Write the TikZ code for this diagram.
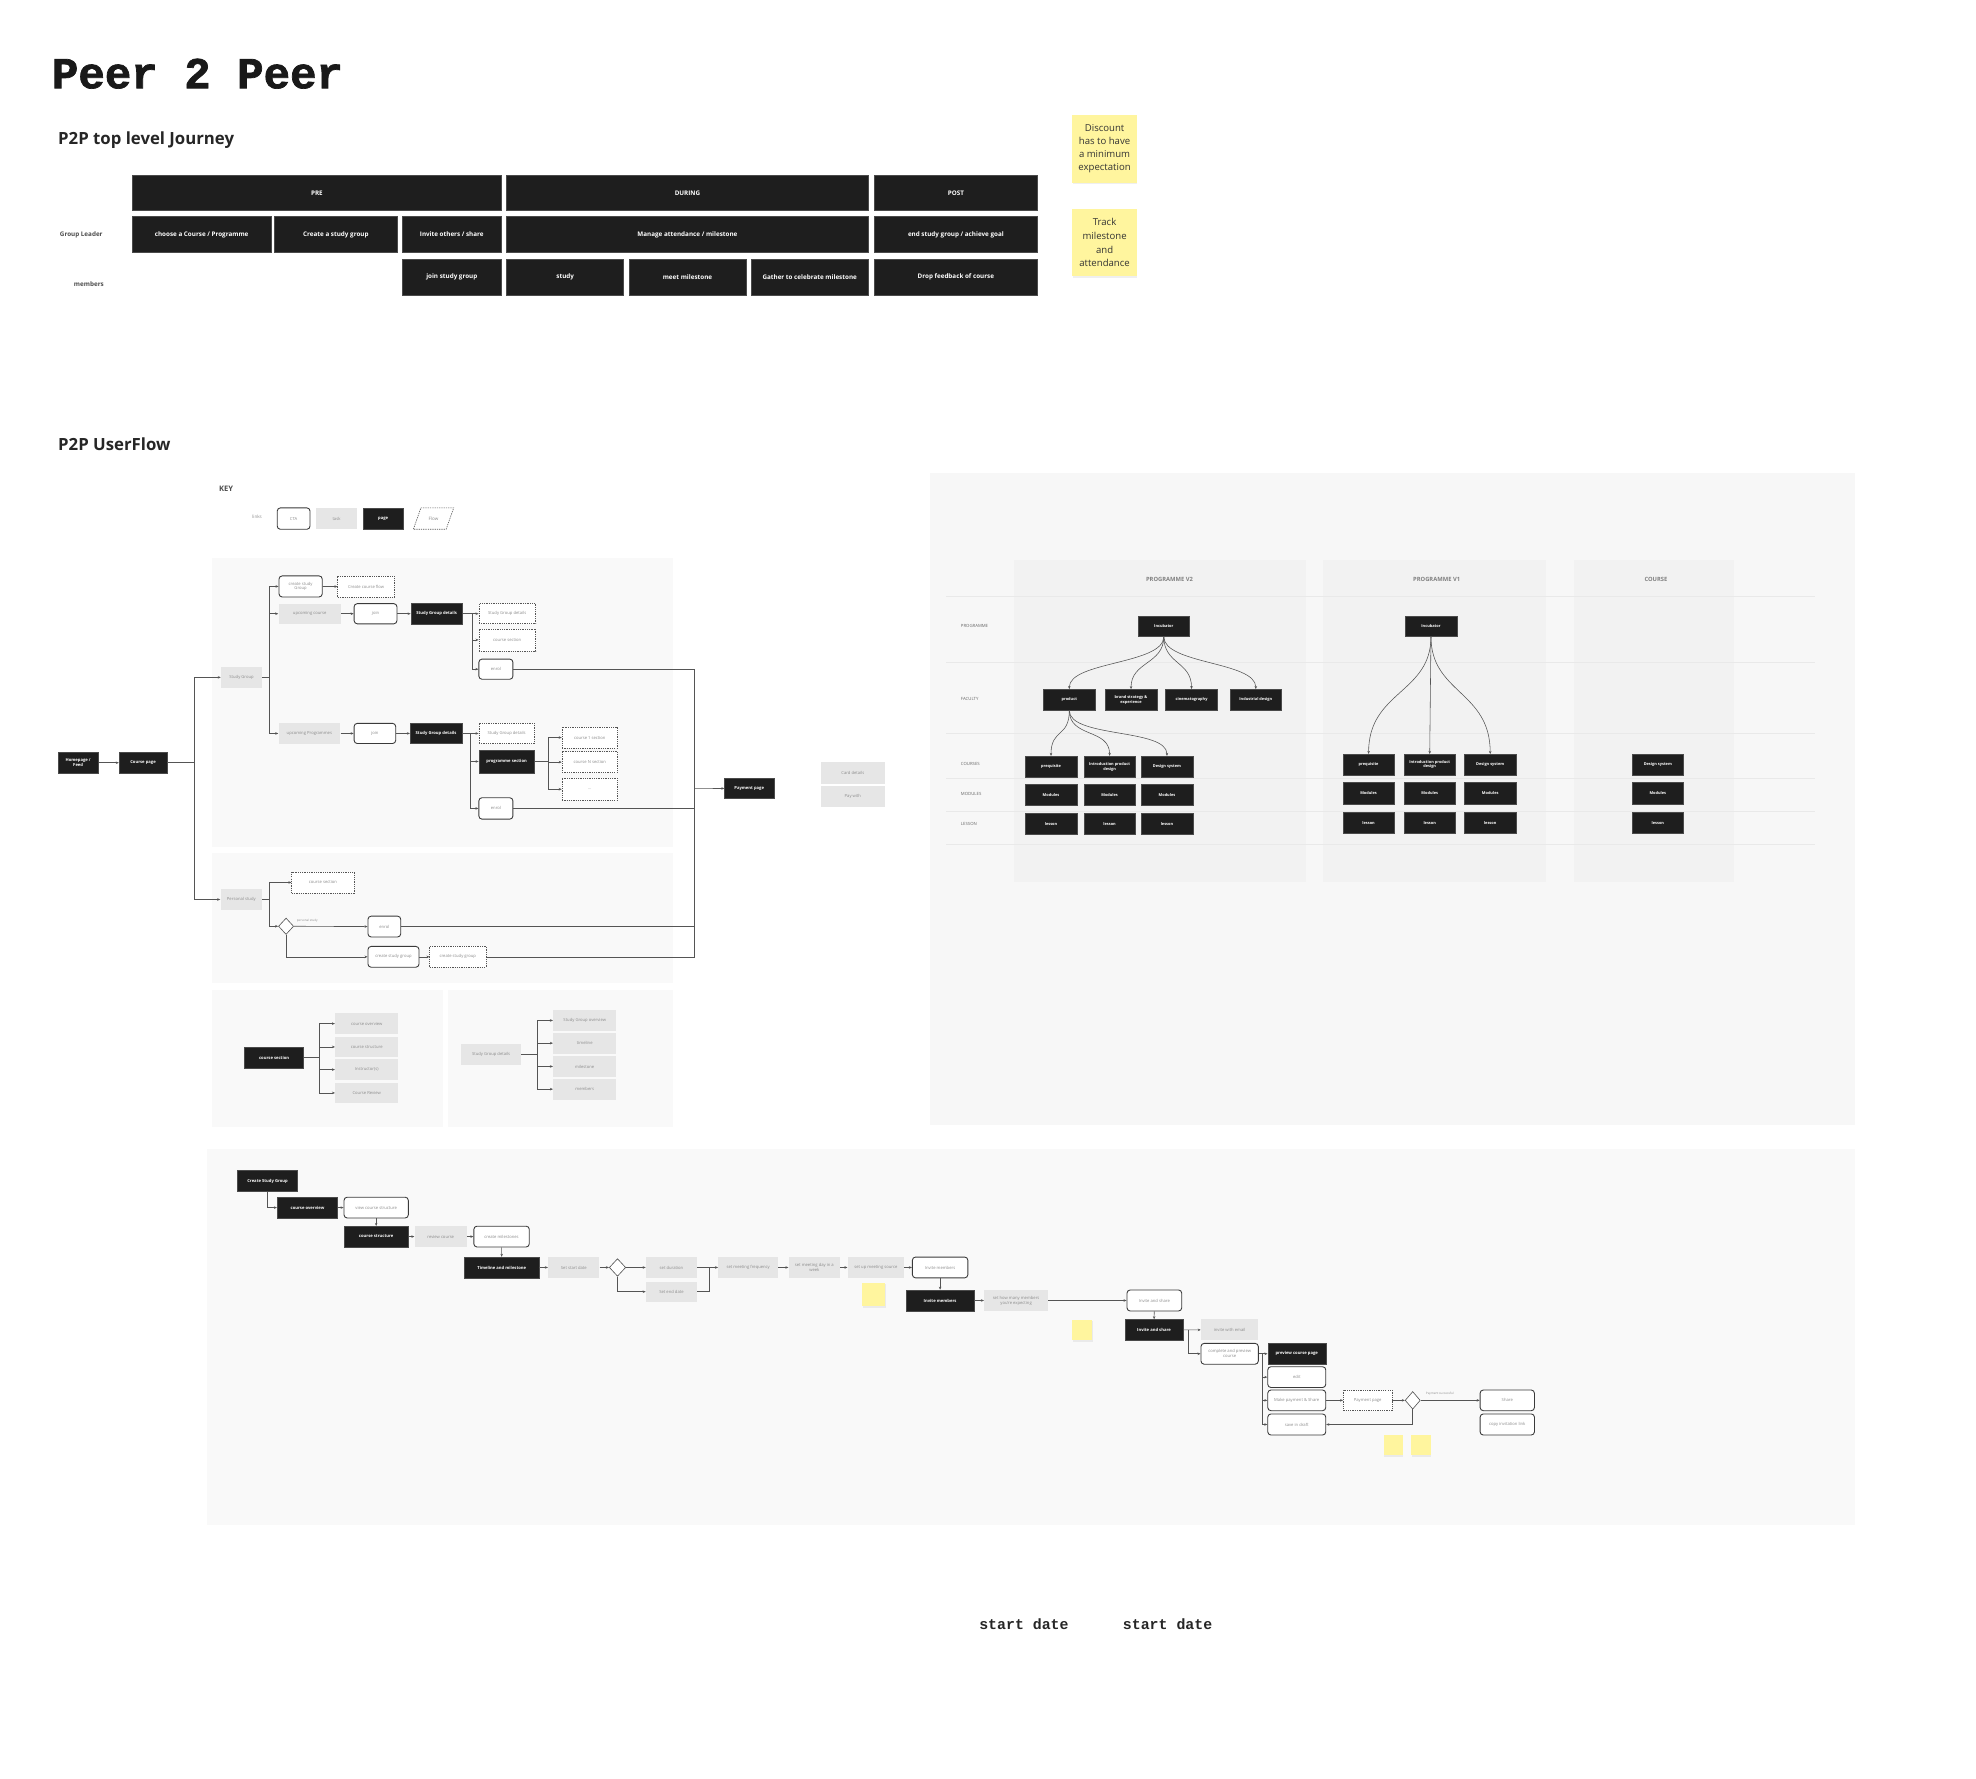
\documentclass[tikz,border=0pt]{standalone}
\usepackage{fontspec}
\setmainfont{Open Sans}
\newfontfamily\monof{Liberation Mono}
\newfontfamily\titlef{Liberation Mono}[BoldFeatures={FakeBold=1.6}]
\usetikzlibrary{arrows.meta,shapes.geometric,shadows,calc}
\definecolor{pgc}{HTML}{1E1E1E}
\definecolor{pgb}{HTML}{4A4A4A}
\definecolor{tkc}{HTML}{E6E6E6}
\definecolor{txg}{HTML}{8C8C8C}
\definecolor{ctab}{HTML}{3A3A3A}
\definecolor{lnc}{HTML}{555555}
\definecolor{panelc}{HTML}{F9F9F9}
\definecolor{bigc}{HTML}{F7F7F7}
\definecolor{colc}{HTML}{F2F2F2}
\definecolor{rowl}{HTML}{E9E9E9}
\definecolor{stk}{HTML}{FFF59E}
\newcommand\mybox[7]{\node[#1, minimum width={#5-#3}, minimum height={#6-#4}] (#2) at ({(#3+#5)/2},{(#4+#6)/2}) {#7};}
\tikzset{
  pg/.style={fill=pgc, draw=pgb, line width=0.4pt, text=white, font=\fontsize{3.3}{3.9}\selectfont\bfseries, inner sep=0.3pt, align=center},
  tk/.style={fill=tkc, text=txg, font=\fontsize{3.3}{3.9}\selectfont, inner sep=0.3pt, align=center},
  cta/.style={draw=ctab, line width=0.7pt, rounded corners=2.5pt, fill=white, text=txg, font=\fontsize{3.3}{3.9}\selectfont, inner sep=0.3pt, align=center},
  fl/.style={draw=lnc, line width=0.5pt, dash pattern=on 1pt off 0.8pt, fill=white, text=txg, font=\fontsize{3.3}{3.9}\selectfont, inner sep=0.3pt, align=center},
  jr/.style={fill=pgc, draw=pgb, line width=0.5pt, text=white, font=\fontsize{5}{6}\selectfont\bfseries, inner sep=0.5pt, align=center},
  rn/.style={pg, font=\fontsize{3.1}{3.6}\selectfont\bfseries},
  arr/.style={draw=lnc, line width=0.5pt, -{Stealth[length=2.4pt,width=2pt]}},
  ln/.style={draw=lnc, line width=0.5pt},
  curv/.style={draw=lnc, line width=0.45pt, -{Stealth[length=2.4pt,width=2pt]}},
  sticky/.style={fill=stk, text=black!80, align=center, inner sep=0pt, drop shadow={opacity=0.12, shadow xshift=0.6pt, shadow yshift=-1.2pt}},
  dmd/.style={diamond, draw=lnc, line width=0.5pt, fill=white, inner sep=0pt},
  rowlab/.style={anchor=west, text=black!60, font=\fontsize{3.4}{4}\selectfont},
  colhead/.style={text=black!50, font=\fontsize{4.6}{5.5}\selectfont\bfseries},
  tiny lab/.style={text=txg, font=\fontsize{2.4}{2.8}\selectfont}
}
\begin{document}
\begin{tikzpicture}[x=1pt,y=-1pt]
\useasboundingbox[fill=white] (0,0) rectangle (1568,1411);

% ---------- titles ----------
\node[anchor=base west, inner sep=0, font=\titlef\bfseries\fontsize{35}{40}\selectfont, text=black!90] (title) at (41,70) {Peer 2 Peer};
\node[anchor=base west, inner sep=0, font=\bfseries\fontsize{13.3}{15}\selectfont, text=black!85] (hjourney) at (46,114.5) {P2P top level Journey};
\node[anchor=base west, inner sep=0, font=\bfseries\fontsize{13.3}{15}\selectfont, text=black!85] (hflow) at (46,357.5) {P2P UserFlow};

% ---------- top journey ----------
\mybox{jr}{pre}{105}{139}{398}{167}{PRE}
\mybox{jr}{during}{402}{139}{689}{167}{DURING}
\mybox{jr}{post}{694}{139}{823}{167}{POST}
\mybox{jr}{gla}{105}{172}{215}{200}{choose a Course / Programme}
\mybox{jr}{glb}{218}{172}{315}{200}{Create a study group}
\mybox{jr}{glc}{319}{172}{398}{200}{Invite others / share}
\mybox{jr}{gld}{402}{172}{689}{200}{Manage attendance / milestone}
\mybox{jr}{gle}{694}{172}{823}{200}{end study group / achieve goal}
\mybox{jr}{mema}{319}{206}{398}{234}{join study group}
\mybox{jr}{memb}{402}{206}{495}{234}{study}
\mybox{jr}{memc}{499}{206}{592}{234}{meet milestone}
\mybox{jr}{memd}{596}{206}{689}{234}{Gather to celebrate milestone}
\mybox{jr}{meme}{694}{206}{823}{234}{Drop feedback of course}
\node[font=\fontsize{5}{6}\selectfont\bfseries, text=black!70] (lgl) at (64.5,186.5) {Group Leader};
\node[font=\fontsize{5}{6}\selectfont\bfseries, text=black!70] (lmem) at (70.5,225.5) {members};

\node[sticky, minimum width=51, minimum height=54, font=\fontsize{7.6}{10.4}\selectfont] (st1) at (876.5,118) {Discount\\has to have\\a minimum\\expectation};
\node[sticky, minimum width=51, minimum height=53, font=\fontsize{7.6}{11}\selectfont] (st2) at (876.5,192.5) {Track\\milestone\\and\\attendance};

% ---------- key ----------
\node[font=\fontsize{6}{7}\selectfont\bfseries, text=black!70] (keyt) at (179.5,388) {KEY};
\node[tiny lab, font=\fontsize{3.6}{4}\selectfont] (keyl) at (204,410) {links};
\mybox{cta}{kcta}{220}{403}{246}{420}{CTA}
\mybox{tk}{ktask}{251}{403}{283}{420}{task}
\mybox{pg}{kpage}{288}{403}{320}{420}{page}
\draw[draw=lnc, line width=0.5pt, dash pattern=on 1pt off 0.8pt, fill=white] (334,403) -- (360,403) -- (354,420) -- (328,420) -- cycle;
\node[tiny lab, font=\fontsize{3.6}{4}\selectfont] (kflow) at (344,411.5) {Flow};

% ---------- left panels ----------
\fill[panelc] (168,443) rectangle (534,672);
\fill[panelc] (168,677) rectangle (534,780);
\fill[panelc] (168,785.5) rectangle (351.5,894);
\fill[panelc] (355.5,785.5) rectangle (534,894);

\mybox{pg}{home}{46}{597}{78}{613.5}{Homepage /\\Feed}
\mybox{pg}{cpage}{94.5}{597}{132.5}{613.5}{Course page}

\mybox{tk}{sg}{175.4}{529}{208}{546}{Study Group}
\mybox{cta}{csg}{221.4}{457}{255.7}{473.7}{create study\\Group}
\mybox{fl}{ccf}{268}{457}{313}{474}{Create course flow}
\mybox{tk}{upc}{221}{479}{270.5}{495}{upcoming course}
\mybox{cta}{joina}{281}{479}{315}{495}{join}
\mybox{pg}{sgda}{326}{479}{367}{495}{Study Group details}
\mybox{fl}{sgdfa}{380}{479}{425}{495}{Study Group details}
\mybox{fl}{csa}{380}{499}{425}{516.5}{course section}
\mybox{cta}{enrola}{380}{523}{407}{539}{enrol}

\mybox{tk}{upp}{221}{574}{270}{590}{upcoming Programmes}
\mybox{cta}{joinb}{281}{574}{314}{590}{join}
\mybox{pg}{sgdb}{325.5}{574}{366.5}{590}{Study Group details}
\mybox{fl}{sgdfb}{380}{574}{424}{590}{Study Group details}
\mybox{pg}{psec}{380}{595}{424}{613.5}{programme section}
\mybox{fl}{cones}{446}{577}{490}{593.5}{course 1 section}
\mybox{fl}{cns}{446}{596.5}{490}{613}{course N section}
\mybox{fl}{cdots}{446}{617.5}{490}{635}{...}
\mybox{cta}{enrolb}{380}{633}{407}{650}{enrol}

\mybox{pg}{paypage}{575}{617.5}{614}{633.8}{Payment page}
\mybox{tk}{card}{651.5}{605}{702}{622}{Card details}
\mybox{tk}{paywith}{651.5}{624}{702}{640}{Pay with}

\mybox{tk}{pst}{175}{705.5}{208}{722}{Personal study}
\mybox{fl}{pcs}{231.5}{692}{281}{708.5}{course section}
\node[dmd, minimum width=12, minimum height=13] (dia1) at (227,735) {};
\node[tiny lab, anchor=west] (dia1l) at (232,730.5) {personal study};
\mybox{cta}{enrolc}{292}{727}{318}{743.5}{enrol}
\mybox{cta}{pcsg}{292}{751}{332.5}{767.5}{create study group}
\mybox{fl}{pcsgf}{341}{751}{385.5}{767.5}{create study group}

\mybox{pg}{csec}{194}{831}{241}{847.5}{course section}
\mybox{tk}{cov}{266}{804}{316}{820.5}{course overview}
\mybox{tk}{cstru}{266}{822.5}{316}{839}{course structure}
\mybox{tk}{instr}{266}{840.5}{316}{857}{Instructor(s)}
\mybox{tk}{crev}{266}{859}{316}{875.5}{Course Review}

\mybox{tk}{sgdc}{366}{828.5}{413.5}{845}{Study Group details}
\mybox{tk}{sgov}{439}{801.5}{489}{818}{Study Group overview}
\mybox{tk}{tline}{439}{819.5}{489}{836}{timeline}
\mybox{tk}{mstone}{439}{838}{489}{854.5}{milestone}
\mybox{tk}{mbrs}{439}{856}{489}{872.5}{members}

% connectors, left flow
\coordinate (ta) at (154,605.25);
\coordinate (tb) at (214,537.5);
\coordinate (tc) at (374.6,487);
\coordinate (td) at (373,582);
\coordinate (te) at (435,604.25);
\coordinate (tf) at (214,713.75);
\coordinate (pj) at (551,625.6);
\coordinate (tg) at (253,839.25);
\coordinate (th) at (426,836.75);

\draw[arr] (home) -- (cpage);
\draw[ln] (cpage.east) -- (ta);
\draw[arr] (ta) |- (sg.west);
\draw[arr] (ta) |- (pst.west);
\draw[ln] (sg.east) -- (tb);
\draw[arr] (tb) |- (csg.west);
\draw[arr] (tb) |- (upc.west);
\draw[arr] (tb) |- (upp.west);
\draw[arr] (csg) -- (ccf);
\draw[arr] (upc) -- (joina);
\draw[arr] (joina) -- (sgda);
\draw[arr] (sgda) -- (sgdfa);
\draw[arr] (tc) |- (csa.west);
\draw[arr] (tc) |- (enrola.west);
\draw[arr] (upp) -- (joinb);
\draw[arr] (joinb) -- (sgdb);
\draw[arr] (sgdb) -- (sgdfb);
\draw[arr] (td) |- (psec.west);
\draw[arr] (td) |- (enrolb.west);
\draw[ln] (psec.east) -- (te);
\draw[arr] (te) |- (cones.west);
\draw[arr] (te) |- (cns.west);
\draw[arr] (te) |- (cdots.west);
\draw[ln] (enrola.east) -| (pj);
\draw[ln] (enrolb.east) -| (pj);
\draw[ln] (enrolc.east) -| (pj);
\draw[ln] (pcsgf.east) -| (pj);
\draw[arr] (pj) -- (paypage.west);

\draw[ln] (pst.east) -- (tf);
\draw[arr] (tf) |- (pcs.west);
\draw[arr] (tf) |- (dia1.west);
\draw[arr] (dia1.east) -- (enrolc.west);
\draw[arr] (dia1.south) |- (pcsg.west);
\draw[arr] (pcsg) -- (pcsgf);

\draw[ln] (csec.east) -- (tg);
\foreach \n in {cov,cstru,instr,crev} \draw[arr] (tg) |- (\n.west);
\draw[ln] (sgdc.east) -- (th);
\foreach \n in {sgov,tline,mstone,mbrs} \draw[arr] (th) |- (\n.west);

% ---------- right panel ----------
\fill[bigc] (738,375) rectangle (1472,893);
\fill[colc] (805,444) rectangle (1036,700);
\fill[colc] (1050,444) rectangle (1227,700);
\fill[colc] (1249,444) rectangle (1376,700);
\foreach \yy in {473,526,582,618,643.5,670} \draw[rowl, line width=0.6pt] (751,\yy) -- (1440,\yy);
\node[colhead] (hv2) at (928,460) {PROGRAMME V2};
\node[colhead] (hv1) at (1140,460) {PROGRAMME V1};
\node[colhead] (hco) at (1314,460) {COURSE};
\node[rowlab] (rprog) at (759,497) {PROGRAMME};
\node[rowlab] (rfac) at (759,555) {FACULTY};
\node[rowlab] (rcou) at (759,606) {COURSES};
\node[rowlab] (rmod) at (759,630) {MODULES};
\node[rowlab] (rles) at (759,654) {LESSON};

\mybox{rn}{inctwo}{903}{489}{944}{505}{Incubator}
\mybox{rn}{prod}{828}{547}{869}{563.5}{product}
\mybox{rn}{brand}{877}{547}{918}{563.5}{brand strategy \&\\experience}
\mybox{rn}{cine}{925}{547}{966}{563.5}{cinematography}
\mybox{rn}{indd}{976}{547}{1017}{563.5}{Industrial design}
\mybox{rn}{vtwoa}{813.5}{600}{854.5}{617}{prequisite}
\mybox{rn}{vtwob}{860}{600}{901}{617}{Introduction product\\design}
\mybox{rn}{vtwoc}{905.5}{600}{946.5}{617}{Design system}
\mybox{rn}{mtwoa}{813.5}{622}{854.5}{639}{Modules}
\mybox{rn}{mtwob}{860}{622}{901}{639}{Modules}
\mybox{rn}{mtwoc}{905.5}{622}{946.5}{639}{Modules}
\mybox{rn}{ltwoa}{813.5}{645.5}{854.5}{662}{lesson}
\mybox{rn}{ltwob}{860}{645.5}{901}{662}{lesson}
\mybox{rn}{ltwoc}{905.5}{645.5}{946.5}{662}{lesson}

\mybox{rn}{incone}{1115}{489}{1156}{505}{Incubator}
\mybox{rn}{vonea}{1066}{598.5}{1106}{615}{prequisite}
\mybox{rn}{voneb}{1114}{598.5}{1155}{615}{Introduction product\\design}
\mybox{rn}{vonec}{1162}{598.5}{1203}{615}{Design system}
\mybox{rn}{monea}{1066}{621}{1106}{638}{Modules}
\mybox{rn}{moneb}{1114}{621}{1155}{638}{Modules}
\mybox{rn}{monec}{1162}{621}{1203}{638}{Modules}
\mybox{rn}{lonea}{1066}{644.5}{1106}{661}{lesson}
\mybox{rn}{loneb}{1114}{644.5}{1155}{661}{lesson}
\mybox{rn}{lonec}{1162}{644.5}{1203}{661}{lesson}

\mybox{rn}{csa2}{1295}{598.5}{1336}{615}{Design system}
\mybox{rn}{csb2}{1295}{621}{1336}{638}{Modules}
\mybox{rn}{csc2}{1295}{644.5}{1336}{661}{lesson}

\foreach \n in {prod,brand,cine,indd}
  \draw[curv] (inctwo.south) .. controls +(0,22) and +(0,-22) .. (\n.north);
\foreach \n in {vtwoa,vtwob,vtwoc}
  \draw[curv] (prod.south) .. controls +(0,22) and +(0,-22) .. (\n.north);
\draw[curv] (incone.south) .. controls +(0,45) and +(0,-50) .. (vonea.north);
\draw[curv] (incone.south) -- (voneb.north);
\draw[curv] (incone.south) .. controls +(0,45) and +(0,-50) .. (vonec.north);

% ---------- bottom flow ----------
\fill[panelc] (164,912) rectangle (1472,1210);

\mybox{pg}{csgb}{188.6}{929}{236}{945.6}{Create Study Group}
\mybox{pg}{covb}{220}{950}{268}{966.5}{course overview}
\mybox{cta}{vcs}{273}{950}{324}{966.5}{view course structure}
\mybox{pg}{cstr}{273}{973}{324}{989.5}{course structure}
\mybox{tk}{rvc}{329}{973}{370.5}{989.5}{review course}
\mybox{cta}{cms}{376}{973}{420}{989.5}{create milestones}
\mybox{pg}{tam}{368.6}{997.5}{427.7}{1014}{Timeline and milestone}
\mybox{tk}{ssd}{435}{997.5}{475.7}{1014}{Set start date}
\node[dmd, minimum width=13, minimum height=14] (diab) at (490,1005.75) {};
\mybox{tk}{sdu}{512.6}{997.5}{553}{1014}{set duration}
\mybox{tk}{sed}{512.6}{1017}{553}{1033}{Set end date}
\mybox{tk}{smf}{570}{997.5}{617.4}{1014}{set meeting frequency}
\mybox{tk}{smd}{625.8}{997.5}{666.6}{1014}{set meeting day in a\\week}
\mybox{tk}{sms}{672.7}{997.5}{717.3}{1014}{set up meeting source}
\mybox{cta}{imc}{724}{997.5}{768}{1014}{Invite members}
\node[sticky, minimum width=18.6, minimum height=18.5] (sta) at (693.3,1027.3) {};
\mybox{pg}{imp}{719}{1023.6}{773}{1040.3}{Invite members}
\mybox{tk}{shm}{781}{1023.6}{831.6}{1040.3}{set how many members\\you're expecting}
\mybox{cta}{ias}{894.3}{1023.6}{937.7}{1040.3}{Invite and share}
\node[sticky, minimum width=15.5, minimum height=16.5] (stb) at (858.7,1055.3) {};
\mybox{pg}{iasp}{892.7}{1047}{938.7}{1063.6}{Invite and share}
\mybox{tk}{iwe}{953}{1047}{998.5}{1063.5}{invite with email}
\mybox{cta}{cpc}{953}{1066}{998.5}{1082.5}{complete and preview\\course}
\mybox{pg}{pcp}{1006}{1066}{1052}{1082.5}{preview course page}
\mybox{cta}{edit}{1006}{1084.5}{1052}{1101}{edit}
\mybox{cta}{mps}{1006}{1103}{1052}{1119.4}{Make payment \& Share}
\mybox{cta}{sid}{1006}{1122}{1052}{1138.7}{save in draft}
\mybox{fl}{ppb}{1066}{1103}{1104.6}{1119.4}{Payment page}
\node[dmd, minimum width=12, minimum height=14] (diac) at (1121,1111.2) {};
\node[tiny lab, anchor=west] (diacl) at (1128,1106) {Payment successful};
\mybox{cta}{share}{1174.5}{1103}{1217.6}{1119.4}{Share}
\mybox{cta}{cil}{1174.5}{1122}{1217.6}{1138.7}{copy invitation link}
\node[sticky, minimum width=15, minimum height=16.3] (stc) at (1105.5,1146.8) {};
\node[sticky, minimum width=15.6, minimum height=16.3] (std) at (1127.5,1146.8) {};

\coordinate (tj) at (563,1005.75);
\coordinate (tk8) at (942.7,1055.3);
\coordinate (tl9) at (1001.5,1074.25);

\draw[arr] (csgb.south) |- (covb.west);
\draw[arr] (covb) -- (vcs);
\draw[arr] (vcs) -- (cstr);
\draw[arr] (cstr) -- (rvc);
\draw[arr] (rvc) -- (cms);
\draw[arr] (cms) -- (tam);
\draw[arr] (tam) -- (ssd);
\draw[arr] (ssd) -- (diab);
\draw[arr] (diab.east) -- (sdu.west);
\draw[arr] (diab.south) |- (sed.west);
\draw[ln] (sdu.east) -- (tj);
\draw[ln] (sed.east) -| (tj);
\draw[arr] (tj) -- (smf.west);
\draw[arr] (smf) -- (smd);
\draw[arr] (smd) -- (sms);
\draw[arr] (sms) -- (imc);
\draw[arr] (imc) -- (imp);
\draw[arr] (imp) -- (shm);
\draw[arr] (shm) -- (ias);
\draw[arr] (ias) -- (iasp);
\draw[arr] (iasp) -- (iwe);
\draw[arr] (tk8) |- (cpc.west);
\draw[arr] (cpc) -- (pcp);
\draw[arr] (tl9) |- (edit.west);
\draw[arr] (tl9) |- (mps.west);
\draw[arr] (tl9) |- (sid.west);
\draw[arr] (mps) -- (ppb);
\draw[arr] (ppb) -- (diac);
\draw[arr] (diac.east) -- (share.west);
\draw[arr] (diac.south) |- (sid.east);

% ---------- bottom texts ----------
\node[font=\monof\bfseries\fontsize{11.8}{14}\selectfont, text=black!85] (sda) at (812.5,1288.5) {start date};
\node[font=\monof\bfseries\fontsize{11.8}{14}\selectfont, text=black!85] (sdb) at (926.5,1288.5) {start date};
\end{tikzpicture}
\end{document}
